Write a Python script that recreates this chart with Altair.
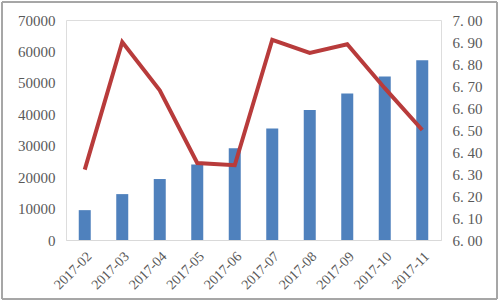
import altair as alt
import pandas as pd

months = ["2017-02", "2017-03", "2017-04", "2017-05", "2017-06",
          "2017-07", "2017-08", "2017-09", "2017-10", "2017-11"]
bar_values = [9500, 14600, 19400, 24000, 29200, 35500, 41400, 46600, 52000, 57200]
line_values = [6.32, 6.90, 6.68, 6.35, 6.34, 6.91, 6.85, 6.89, 6.69, 6.50]
left_ticks = [0, 10000, 20000, 30000, 40000, 50000, 60000, 70000]
right_ticks = [6.0, 6.1, 6.2, 6.3, 6.4, 6.5, 6.6, 6.7, 6.8, 6.9, 7.0]

df = pd.DataFrame({"month": months, "count": bar_values, "rate": line_values})

FONT = "Liberation Serif"
GREY = "#595959"

x = alt.X("month:N", sort=months, title=None,
          scale=alt.Scale(paddingInner=0.68, paddingOuter=0.34),
          axis=alt.Axis(labelAngle=-45, labelFont=FONT, labelFontSize=14,
                        labelColor=GREY, ticks=False, domainColor="#d9d9d9",
                        labelPadding=9))

bars = alt.Chart(df).mark_bar(color="#4f81bd").encode(
    x=x,
    y=alt.Y("count:Q", title=None,
            scale=alt.Scale(domain=[0, 70000], nice=False),
            axis=alt.Axis(values=left_ticks, grid=False, domain=False, ticks=False,
                          format="d", labelFont=FONT, labelFontSize=15,
                          labelColor=GREY, labelPadding=11)),
)

line = alt.Chart(df).mark_line(color="#b83b3b", strokeWidth=4, strokeJoin="miter").encode(
    x=alt.X("month:N", sort=months),
    y=alt.Y("rate:Q", title=None,
            scale=alt.Scale(domain=[6.0, 7.0], nice=False, zero=False),
            axis=alt.Axis(orient="right", values=right_ticks, grid=False, domain=False,
                          ticks=False, labelFont=FONT, labelFontSize=15,
                          labelColor=GREY, labelPadding=11,
                          labelExpr="replace(format(datum.value, '.2f'), '.', '. ')")),
)

frame = alt.Chart(df).mark_rect(fill=None, stroke="#a6a6a6", strokeWidth=1).encode(
    x=alt.value(-64), x2=alt.value(431), y=alt.value(-18), y2=alt.value(279)
)

chart = alt.layer(bars, line, frame).resolve_scale(y="independent").properties(
    width=375, height=220,
    autosize=alt.AutoSizeParams(type="none"),
    padding={"left": 66, "top": 20, "right": 59, "bottom": 65},
).configure_view(stroke=None).configure(background="white")

chart.save("out.html", embed_options={"renderer": "svg", "actions": False})
